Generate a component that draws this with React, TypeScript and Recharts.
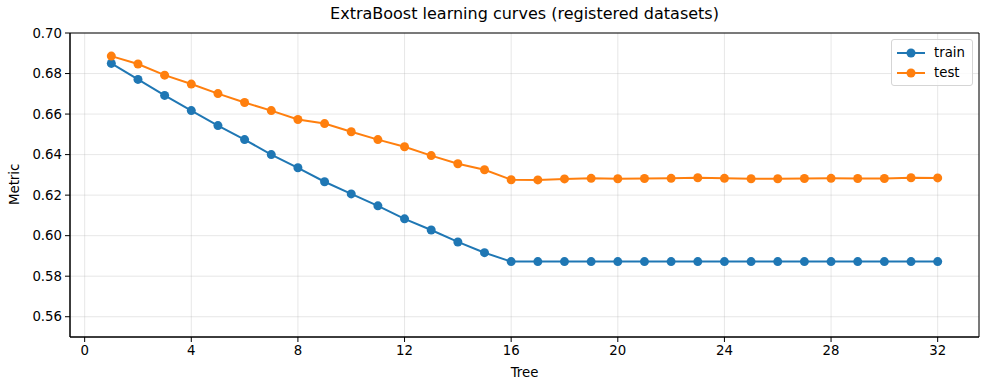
import React from "react";
import {
  LineChart,
  Line,
  XAxis,
  YAxis,
  CartesianGrid,
  ReferenceArea,
} from "recharts";

const trees: number[] = Array.from({ length: 32 }, (_, i) => i + 1);

const trainValues: number[] = [
  0.685, 0.6771, 0.6692, 0.6617, 0.6543, 0.6474, 0.64, 0.6335, 0.6266, 0.6206,
  0.6147, 0.6083, 0.6028, 0.5969, 0.5916, 0.5872, 0.5872, 0.5872, 0.5872,
  0.5872, 0.5872, 0.5872, 0.5872, 0.5872, 0.5872, 0.5872, 0.5872, 0.5872,
  0.5872, 0.5872, 0.5872, 0.5872,
];

const testValues: number[] = [
  0.6886, 0.6847, 0.6792, 0.6748, 0.6701, 0.6657, 0.6617, 0.6573, 0.6553,
  0.6513, 0.6474, 0.6439, 0.6395, 0.6355, 0.6325, 0.6276, 0.6275, 0.628,
  0.6283, 0.6281, 0.6282, 0.6283, 0.6286, 0.6283, 0.6281, 0.6281, 0.6282,
  0.6283, 0.6282, 0.6282, 0.6286, 0.6285,
];

const xTicks: number[] = [0, 4, 8, 12, 16, 20, 24, 28, 32];
const yTicks: number[] = [0.56, 0.58, 0.6, 0.62, 0.64, 0.66, 0.68, 0.7];

const seriesNames: string[] = ["train", "test"];

const data = trees.map((t, i) => ({
  tree: t,
  train: trainValues[i],
  test: testValues[i],
}));

const FONT = "DejaVu Sans, sans-serif";
const BLUE = "#1f77b4";
const ORANGE = "#ff7f0e";
const COLORS = [BLUE, ORANGE];
const R = 4.5;

const LegendBox = () => (
  <div
    style={{
      position: "absolute",
      left: 891,
      top: 39,
      width: 82,
      boxSizing: "border-box",
      border: "1px solid #d5d5d5",
      borderRadius: 3,
      background: "rgba(255,255,255,0.8)",
      padding: "3px 5px 2px 5px",
      fontFamily: FONT,
      fontSize: 13.3,
      color: "#000",
      lineHeight: "20px",
    }}
  >
    {seriesNames.map((name, i) => (
      <div key={name} style={{ display: "flex", alignItems: "center" }}>
        <svg width={28} height={12} style={{ marginRight: 9 }}>
          <line x1={0} y1={6} x2={28} y2={6} stroke={COLORS[i]} strokeWidth={2} />
          <circle cx={14} cy={6} r={R} fill={COLORS[i]} />
        </svg>
        <span>{name}</span>
      </div>
    ))}
  </div>
);

export default function App() {
  return (
    <div style={{ position: "absolute", left: 0, top: 0, width: 990, height: 390, background: "#fff" }}>
      <div
        style={{
          position: "absolute",
          top: 4,
          left: 70,
          width: 909,
          textAlign: "center",
          fontFamily: FONT,
          fontSize: 16,
          color: "#000",
        }}
      >
        ExtraBoost learning curves (registered datasets)
      </div>
      <LineChart
        width={990}
        height={390}
        data={data}
        margin={{ top: 33, right: 11, bottom: 23, left: 0 }}
      >
        <CartesianGrid stroke="#b0b0b0" strokeOpacity={0.3} strokeWidth={1} />
        <XAxis
          dataKey="tree"
          type="number"
          domain={[-0.55, 33.55]}
          ticks={xTicks}
          allowDataOverflow
          height={30}
          tickSize={5}
          tickMargin={4}
          stroke="#000"
          tick={{ fill: "#000", fontFamily: FONT, fontSize: 13.3 }}
          label={{
            value: "Tree",
            position: "insideBottom",
            offset: -10,
            fill: "#000",
            fontFamily: FONT,
            fontSize: 13.3,
          }}
        />
        <YAxis
          type="number"
          domain={[0.55, 0.7]}
          ticks={yTicks}
          allowDataOverflow
          width={70}
          tickSize={5}
          tickMargin={3}
          stroke="#000"
          tickFormatter={(v: number) => v.toFixed(2)}
          tick={{ fill: "#000", fontFamily: FONT, fontSize: 13.3 }}
          label={{
            value: "Metric",
            angle: -90,
            position: "insideLeft",
            offset: 14,
            dy: 20,
            fill: "#000",
            fontFamily: FONT,
            fontSize: 13.3,
          }}
        />
        <ReferenceArea
          x1={-0.55}
          x2={33.55}
          y1={0.55}
          y2={0.7}
          fill="none"
          stroke="#000"
          strokeWidth={1}
          ifOverflow="visible"
        />
        <Line
          dataKey="train"
          name="train"
          stroke={BLUE}
          strokeWidth={2}
          dot={{ r: R, fill: BLUE, stroke: BLUE, strokeWidth: 0 }}
          activeDot={false}
          isAnimationActive={false}
        />
        <Line
          dataKey="test"
          name="test"
          stroke={ORANGE}
          strokeWidth={2}
          dot={{ r: R, fill: ORANGE, stroke: ORANGE, strokeWidth: 0 }}
          activeDot={false}
          isAnimationActive={false}
        />
      </LineChart>
      <LegendBox />
    </div>
  );
}
